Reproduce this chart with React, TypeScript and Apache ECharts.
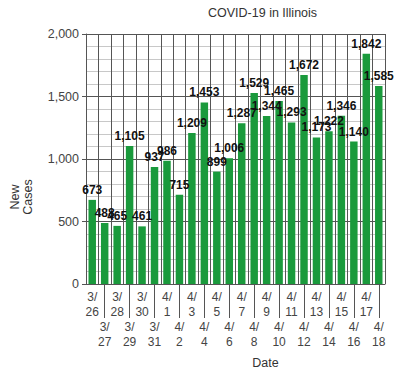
import React, { useEffect, useRef } from "react";
import * as echarts from "echarts";

const dates = ["3/26","3/27","3/28","3/29","3/30","3/31","4/1","4/2","4/3","4/4","4/5","4/6","4/7","4/8","4/9","4/10","4/11","4/12","4/13","4/14","4/15","4/16","4/17","4/18"];
const newCases = [673,488,465,1105,461,937,986,715,1209,1453,899,1006,1287,1529,1344,1465,1293,1672,1173,1222,1346,1140,1842,1585];
const yTicks = { min: 0, max: 2000, interval: 500 };

const FONT = "'Liberation Sans', Arial, sans-serif";

export default function App() {
  const ref = useRef<HTMLDivElement>(null);
  useEffect(() => {
    const chart = echarts.init(ref.current!, null, { renderer: "svg" });
    chart.setOption({
      animation: false,
      textStyle: { fontFamily: FONT },
      title: {
        text: "COVID-19 in Illinois",
        left: 203,
        top: 1,
        textStyle: { fontSize: 12.5, fontWeight: "normal", color: "#333", fontFamily: FONT },
      },
      grid: { left: 71, right: 10, top: 34, bottom: 92, containLabel: false },
      xAxis: {
        type: "category",
        data: dates,
        name: "Date",
        nameLocation: "middle",
        nameGap: 72,
        nameTextStyle: { fontSize: 12.5, color: "#333", padding: [0, 0, 0, 60] },
        axisLine: { show: true, lineStyle: { color: "#555" } },
        axisTick: {
          show: true,
          alignWithLabel: true,
          interval: (i: number) => i % 2 === 1,
          length: 34,
          lineStyle: { color: "#555" },
        },
        axisLabel: {
          interval: 0,
          margin: 5,
          fontSize: 12,
          lineHeight: 15,
          color: "#444",
          formatter: (v: string, i: number) => {
            const [m, d] = v.split("/");
            return (i % 2 === 1 ? "\n\n" : "") + m + "/\n" + d;
          },
        },
        splitLine: { show: true, interval: 0, lineStyle: { color: "#555" } },
      },
      yAxis: {
        type: "value",
        min: yTicks.min,
        max: yTicks.max,
        interval: yTicks.interval,
        name: "New\nCases",
        nameLocation: "middle",
        nameGap: 52,
        nameTextStyle: { fontSize: 12.5, color: "#333", lineHeight: 13, padding: [0, 76, 0, 0] },
        axisLine: { show: true, lineStyle: { color: "#555" } },
        axisTick: { show: true, length: 4, lineStyle: { color: "#555" } },
        axisLabel: {
          fontSize: 12.5,
          color: "#444",
          margin: 7,
          formatter: (v: number) => v.toLocaleString("en-US"),
        },
        splitLine: { show: true, lineStyle: { color: "#555" } },
        minorTick: { show: false, splitNumber: 5 },
        minorSplitLine: { show: true, lineStyle: { color: "#c8c8c8" } },
      },
      series: [
        {
          type: "bar",
          data: newCases,
          barWidth: "60%",
          itemStyle: { color: "#1a9a3c" },
          label: {
            show: true,
            position: "top",
            distance: 4,
            fontSize: 12,
            fontWeight: "bold",
            color: "#111",
            formatter: (p: any) => (p.value as number).toLocaleString("en-US"),
          },
        },
      ],
    });
    return () => chart.dispose();
  }, []);
  return <div ref={ref} style={{ width: 395, height: 376, position: "absolute", left: 0, top: 0 }} />;
}
